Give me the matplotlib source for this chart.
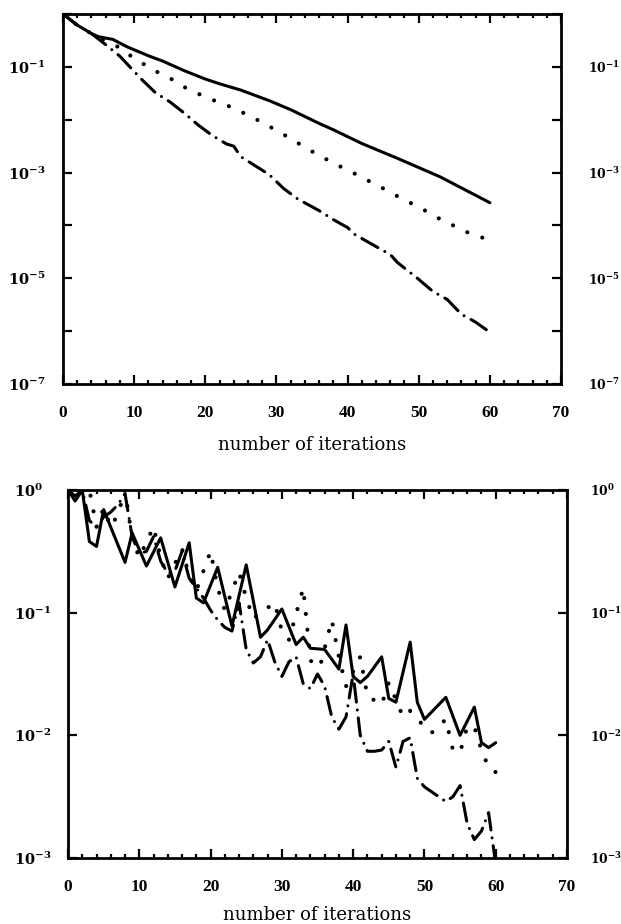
import matplotlib
matplotlib.use("Agg")
import matplotlib.pyplot as plt
import numpy as np
from matplotlib.ticker import FixedLocator, MultipleLocator, NullLocator, FixedFormatter

plt.rcParams['font.family'] = ['Liberation Serif', 'DejaVu Serif']
plt.rcParams['mathtext.fontset'] = 'custom'
plt.rcParams['mathtext.rm'] = 'DejaVu Serif:bold'
plt.rcParams['mathtext.it'] = 'DejaVu Serif:bold'
plt.rcParams['mathtext.bf'] = 'DejaVu Serif:bold'

# ---------------- data: top panel (log10 of residual) ----------------
top_solid_it = [0, 2, 4, 5, 7, 9, 12, 14, 17, 20, 22, 25, 29, 32, 36, 38, 42, 47, 53, 60]
top_solid_log = [0, -0.21, -0.37, -0.43, -0.48, -0.62, -0.79, -0.89, -1.07, -1.23, -1.32,
                 -1.44, -1.64, -1.81, -2.07, -2.19, -2.45, -2.73, -3.08, -3.57]

top_dot_it = [0, 2, 4, 6, 8, 10, 13, 15, 17, 20, 24, 28, 31, 35, 38, 41, 45, 48, 50, 53, 57, 60]
top_dot_log = [0, -0.21, -0.37, -0.50, -0.64, -0.84, -1.08, -1.21, -1.38, -1.57, -1.78,
               -2.05, -2.28, -2.60, -2.82, -3.02, -3.30, -3.52, -3.65, -3.88, -4.14, -4.28]

top_dd_it = [0, 2, 4, 6, 8, 11, 13, 15, 17, 19, 21, 23, 24, 25, 27, 29, 31, 33, 36, 38,
             40, 41, 44, 46, 47, 50, 52, 54, 56, 58, 60]
top_dd_log = [0, -0.21, -0.37, -0.58, -0.80, -1.23, -1.49, -1.66, -1.87, -2.10, -2.30,
              -2.46, -2.50, -2.70, -2.87, -3.04, -3.30, -3.50, -3.72, -3.89, -4.04, -4.17,
              -4.40, -4.55, -4.70, -5.02, -5.25, -5.40, -5.68, -5.83, -6.02]

# ---------------- data: bottom panel ----------------
bot_solid_it = [0, 1, 2, 3, 4, 5, 8, 9, 11, 13, 15, 17, 18, 19, 21, 23, 25, 27, 28, 30,
                32, 33, 34, 36, 38, 39, 40, 41, 42, 44, 45, 46, 48, 49, 50, 53, 55, 57,
                58, 59, 60]
bot_solid_log = [0, -0.09, 0.0, -0.42, -0.46, -0.16, -0.59, -0.35, -0.62, -0.39, -0.79,
                 -0.43, -0.88, -0.92, -0.63, -1.11, -0.61, -1.20, -1.14, -0.97, -1.26,
                 -1.20, -1.29, -1.30, -1.46, -1.10, -1.52, -1.57, -1.52, -1.36, -1.70,
                 -1.73, -1.24, -1.73, -1.87, -1.69, -2.00, -1.77, -2.06, -2.10, -2.06]

bot_dot_it = [0, 1, 2, 3, 4, 5, 6, 7, 8, 9, 10, 12, 13, 14, 16, 17, 18, 20, 21, 22, 24,
              25, 26, 27, 29, 30, 31, 33, 34, 35, 37, 38, 39, 41, 42, 44, 45, 47, 48, 50,
              51, 53, 54, 55, 56, 57, 58, 59, 60]
bot_dot_log = [0, -0.05, 0.0, 0.0, -0.30, -0.15, -0.30, -0.20, 0.0, -0.40, -0.55, -0.30,
               -0.55, -0.72, -0.48, -0.70, -0.82, -0.50, -0.80, -0.98, -0.67, -0.88, -1.05,
               -1.00, -0.92, -1.15, -1.22, -0.80, -1.38, -1.52, -1.06, -1.36, -1.60, -1.36,
               -1.68, -1.75, -1.57, -1.85, -1.80, -1.93, -1.98, -1.87, -2.12, -2.14, -1.93,
               -1.93, -2.12, -2.26, -2.30]

bot_dd_it = list(range(0, 61))
bot_dd_log = [0, -0.05, 0.0, -0.25, -0.30, -0.22, -0.18, -0.12, -0.03, -0.38, -0.52,
              -0.50, -0.38, -0.58, -0.68, -0.66, -0.50, -0.72, -0.80, -0.88, -0.98, -1.06,
              -1.12, -1.15, -0.92, -1.30, -1.41, -1.36, -1.22, -1.40, -1.52, -1.40, -1.36,
              -1.58, -1.62, -1.50, -1.60, -1.85, -1.95, -1.85, -1.50, -2.00, -2.13, -2.13,
              -2.12, -2.05, -2.26, -2.05, -2.02, -2.35, -2.42, -2.46, -2.50, -2.54, -2.50,
              -2.41, -2.72, -2.85, -2.78, -2.63, -3.05]

xlabel_text = "number of iterations"
top_ytick_exp = [0, -1, -2, -3, -4, -5, -6, -7]
top_ylabel_exp = [-1, -3, -5, -7]
bot_ytick_exp = [0, -1, -2, -3]
xticks_major = [0, 10, 20, 30, 40, 50, 60, 70]

# ---------------- figure ----------------
W, H = 621, 924
fig = plt.figure(figsize=(W / 100, H / 100), dpi=100)

def px_axes(l, t, r, b):
    return fig.add_axes([l / W, 1 - b / H, (r - l) / W, (b - t) / H])

ax1 = px_axes(63, 14, 561, 384)
ax2 = px_axes(68, 490, 567, 858)

lw = 2.2
dot_style = dict(linestyle=(0, (0.01, 3.8)), dash_capstyle='round', lw=3.0, color='black')
dd_style = dict(linestyle=(0, (6.0, 2.6, 0.01, 2.6)), dash_capstyle='round', lw=lw, color='black')
solid_style = dict(linestyle='-', lw=lw, color='black', solid_capstyle='round')

def tolin(v):
    return 10.0 ** np.asarray(v)

ax1.plot(top_solid_it, tolin(top_solid_log), **solid_style)
ax1.plot(top_dot_it, tolin(top_dot_log), **dot_style)
ax1.plot(top_dd_it, tolin(top_dd_log), **dd_style)

ax2.plot(bot_solid_it, tolin(bot_solid_log), **solid_style)
ax2.plot(bot_dot_it, tolin(bot_dot_log), **dot_style)
ax2.plot(bot_dd_it, tolin(bot_dd_log), **dd_style)

ylab_size = 10.5

def style_axes(ax, tick_exp, label_exp, ylo, pad_left, xlabelpad):
    ax.set_yscale('log')
    ax.set_xlim(0, 70)
    ax.set_ylim(10.0 ** ylo, 1.0)
    ax.xaxis.set_major_locator(FixedLocator(xticks_major))
    ax.xaxis.set_minor_locator(MultipleLocator(2))
    ax.set_xticklabels([str(v) for v in xticks_major])
    ax.yaxis.set_major_locator(FixedLocator([10.0 ** e for e in tick_exp]))
    ax.yaxis.set_minor_locator(NullLocator())
    ax.yaxis.set_major_formatter(FixedFormatter(
        ['$10^{%d}$' % e if e in label_exp else '' for e in tick_exp]))
    for s in ax.spines.values():
        s.set_linewidth(2.0)
    ax.tick_params(which='both', direction='in', top=True, right=True, width=1.6)
    ax.tick_params(which='major', length=6.5)
    ax.tick_params(which='minor', length=3.0)
    ax.tick_params(axis='x', which='major', pad=15, labelsize=12.5)
    ax.tick_params(axis='y', which='major', pad=pad_left, labelsize=ylab_size)
    for t in ax.get_xticklabels():
        t.set_fontweight('bold')
    for t in ax.get_yticklabels():
        t.set_horizontalalignment('left')
    ax.set_xlabel(xlabel_text, fontsize=13, family=['DejaVu Serif'], labelpad=xlabelpad)

style_axes(ax1, top_ytick_exp, top_ylabel_exp, -7, 39.5, 11)
style_axes(ax2, bot_ytick_exp, bot_ytick_exp, -3, 39.0, 8)

# labels of the neighbouring (cut-off) panel on the right edge
right_size = 8.8
for e in top_ylabel_exp:
    y = 14 + (-e) * (370 / 7)
    fig.text(588 / W, 1 - y / H, '$10^{%d}$' % e, fontsize=right_size, ha='left', va='center_baseline')
for e in bot_ytick_exp:
    y = 490 + (-e) * (368 / 3)
    fig.text(590 / W, 1 - y / H, '$10^{%d}$' % e, fontsize=right_size, ha='left', va='center_baseline')

fig.savefig('out.png', dpi=100)
